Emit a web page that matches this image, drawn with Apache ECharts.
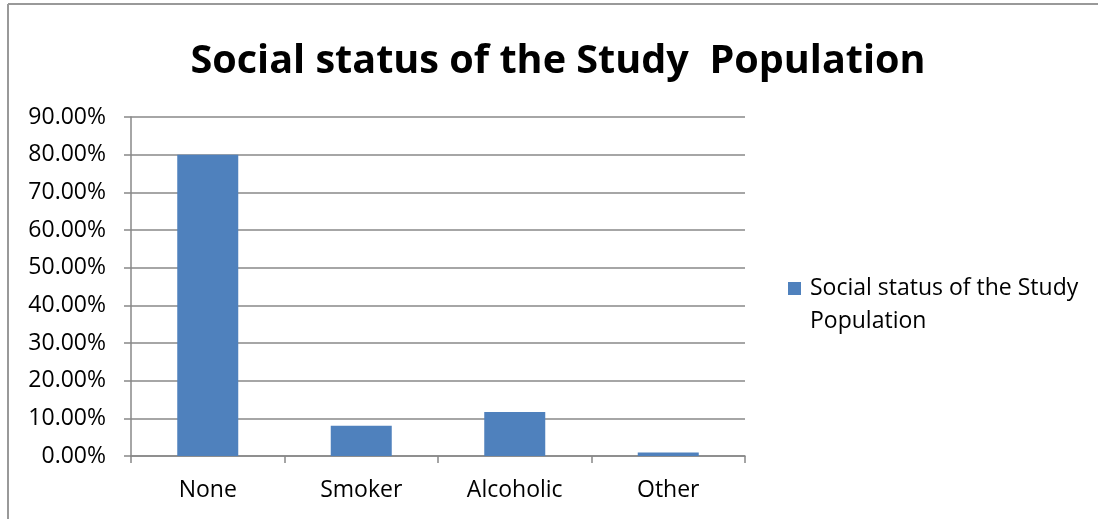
<!DOCTYPE html>
<html>
<head>
<meta charset="utf-8">
<script src="https://cdn.jsdelivr.net/npm/echarts@6/dist/echarts.min.js"></script>
<style>
  html, body { margin: 0; padding: 0; background: #fff; }
  #chart { width: 1098px; height: 519px; }
</style>
</head>
<body>
<div id="chart"></div>
<script>
// 数据
const categories = ['None', 'Smoker', 'Alcoholic', 'Other'];
const values = [0.80, 0.08, 0.117, 0.009];
const seriesName = 'Social status of the Study Population';

const font = '"Open Sans", Lato, sans-serif';
const chart = echarts.init(document.getElementById('chart'));

chart.setOption({
  animation: false,
  textStyle: { fontFamily: font },
  title: {
    text: 'Social status of the Study  Population',
    left: 553,
    textAlign: 'center',
    top: 37,
    textStyle: { fontSize: 39.6, fontWeight: 'bold', color: '#000', fontFamily: font }
  },
  graphic: [
    { type: 'line', shape: { x1: 8, y1: 4, x2: 1098, y2: 4 }, style: { stroke: '#999', lineWidth: 2 } },
    { type: 'line', shape: { x1: 8, y1: 4, x2: 8, y2: 519 }, style: { stroke: '#999', lineWidth: 2 } }
  ],
  legend: {
    left: 783,
    top: 234,
    orient: 'vertical',
    itemWidth: 13,
    itemHeight: 13,
    icon: 'rect',
    // leading blank line keeps the marker level with the first text line
    formatter: () => '\nSocial status of the Study\nPopulation',
    textStyle: { fontSize: 23, color: '#000', lineHeight: 33, padding: [0, 0, 0, 4], fontFamily: font }
  },
  grid: { left: 131, right: 353, top: 117, bottom: 63 },
  xAxis: {
    type: 'category',
    data: categories,
    axisLine: { lineStyle: { color: '#888', width: 1.5 } },
    axisTick: { show: true, length: 7, lineStyle: { color: '#888', width: 1.5 } },
    axisLabel: { margin: 23, fontSize: 23, color: '#000', fontFamily: font }
  },
  yAxis: {
    type: 'value',
    min: 0,
    max: 0.9,
    interval: 0.1,
    axisLine: { show: true, lineStyle: { color: '#888', width: 1.5 } },
    axisTick: { show: true, length: 7, lineStyle: { color: '#888', width: 1.5 } },
    splitLine: { lineStyle: { color: '#888', width: 1.5 } },
    axisLabel: {
      margin: 25,
      fontSize: 23,
      color: '#000',
      fontFamily: font,
      formatter: v => (v * 100).toFixed(2) + '%'
    }
  },
  series: [{
    name: seriesName,
    type: 'bar',
    data: values,
    barWidth: 61,
    itemStyle: { color: '#4F81BD' }
  }]
});
</script>
</body>
</html>
